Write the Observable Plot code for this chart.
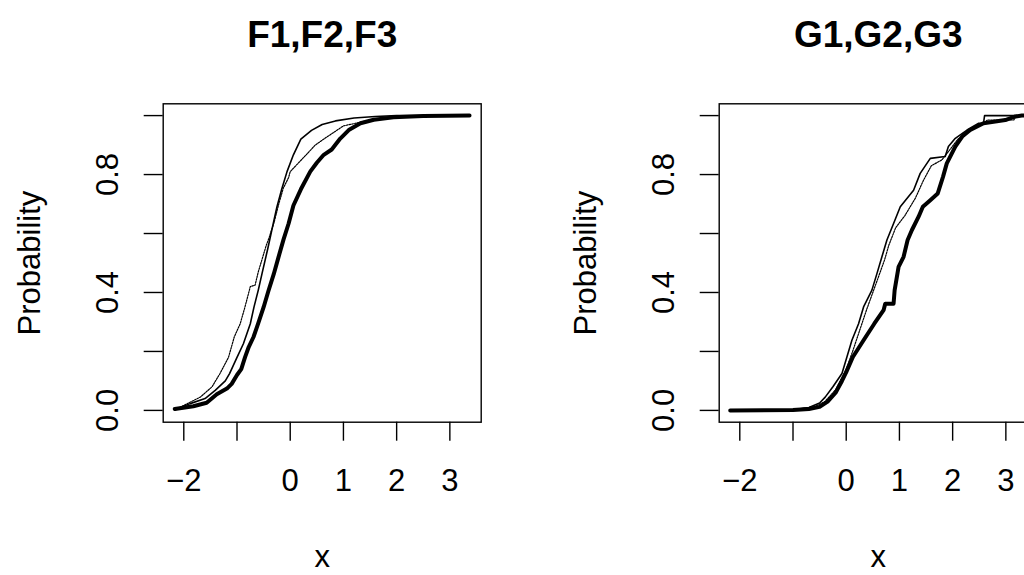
<!DOCTYPE html>
<html>
<head>
<meta charset="utf-8">
<script src="https://cdn.jsdelivr.net/npm/d3@7"></script>
<script src="https://cdn.jsdelivr.net/npm/@observablehq/plot@0.6"></script>
<style>
  html, body { margin: 0; padding: 0; background: #fff; width: 1024px; height: 575px; overflow: hidden; }
  #wrap { position: relative; width: 1024px; height: 575px; overflow: hidden; }
  .panel { position: absolute; top: 0; width: 556px; height: 575px; }
  .panel svg { max-width: none !important; width: 556px; height: 575px; }
  svg { font-family: "Liberation Sans", Arial, Helvetica, sans-serif; overflow: visible; }
</style>
</head>
<body>
<div id="wrap"></div>
<script>
// ---------- Data ----------
const titles = ["F1,F2,F3", "G1,G2,G3"];
const xTicks = [-2, -1, 0, 1, 2, 3];
const xTickLabels = [-2, 0, 1, 2, 3];
const yTicks = [0, 0.2, 0.4, 0.6, 0.8, 1.0];
const yTickLabels = [0, 0.4, 0.8];
const xAxisTitle = "x";
const yAxisTitle = "Probability";

// Left panel: F1 (thick), F2 (thin solid), F3 (thin dotted)
const F1x = [-2.17,-1.82,-1.57,-1.38,-1.19,-1.1,-1.0,-0.92,-0.85,-0.78,-0.69,-0.6,-0.5,-0.41,-0.31,-0.22,-0.125,-0.03,0.06,0.2,0.376,0.5,0.63,0.78,0.94,1.1,1.32,1.57,1.94,2.5,3.37];
const F1y = [0.005,0.014,0.026,0.055,0.074,0.09,0.12,0.14,0.18,0.215,0.249,0.296,0.35,0.405,0.462,0.52,0.58,0.634,0.695,0.75,0.81,0.84,0.867,0.885,0.922,0.951,0.974,0.986,0.994,0.999,1.0];
const F2x = [-2.17,-1.88,-1.6,-1.41,-1.22,-1.14,-1.0,-0.88,-0.75,-0.68,-0.6,-0.53,-0.42,-0.36,-0.25,-0.16,-0.06,0.06,0.2,0.4,0.6,0.85,1.2,1.6,2.0,3.37];
const F2y = [0.003,0.023,0.04,0.068,0.1,0.125,0.18,0.226,0.294,0.351,0.408,0.464,0.55,0.6,0.69,0.75,0.81,0.867,0.92,0.95,0.97,0.982,0.992,0.997,1.0,1.0];
const F3x = [-2.17,-2.0,-1.69,-1.47,-1.32,-1.16,-1.05,-0.94,-0.85,-0.75,-0.66,-0.6,-0.45,-0.4,-0.3,-0.22,-0.13,-0.03,0.0,0.3,0.47,0.66,1.0,1.13,1.5,2.0,2.5,3.37];
const F3y = [0.0,0.017,0.045,0.08,0.125,0.18,0.25,0.294,0.351,0.42,0.425,0.47,0.56,0.584,0.64,0.697,0.754,0.79,0.81,0.867,0.9,0.924,0.965,0.97,0.985,0.996,1.0,1.0];

// Right panel: G1 (thick), G2 (thin solid), G3 (thin dotted)
const G1x = [-2.18,-1.0,-0.7,-0.5,-0.35,-0.2,-0.08,0.0,0.125,0.326,0.527,0.702,0.733,0.89,0.91,0.984,1.078,1.154,1.235,1.36,1.44,1.58,1.72,1.82,1.89,2.05,2.18,2.33,2.58,2.99,3.18,3.3,3.37];
const G1y = [0.0,0.001,0.005,0.012,0.03,0.06,0.1,0.13,0.181,0.238,0.294,0.34,0.362,0.362,0.408,0.487,0.521,0.578,0.612,0.657,0.691,0.713,0.736,0.793,0.838,0.895,0.929,0.951,0.974,0.985,0.997,1.0,1.0];
const G2x = [-2.18,-1.0,-0.7,-0.5,-0.395,-0.25,-0.08,0.013,0.107,0.232,0.326,0.483,0.577,0.671,0.765,0.89,1.016,1.266,1.39,1.58,1.86,1.92,2.05,2.27,2.49,2.58,2.6,3.37];
const G2y = [0.0,0.002,0.01,0.025,0.045,0.08,0.125,0.181,0.238,0.294,0.351,0.408,0.464,0.521,0.578,0.634,0.691,0.747,0.804,0.855,0.861,0.895,0.923,0.951,0.974,0.974,1.0,1.0];
const G3x = [-2.18,-1.0,-0.6,-0.4,-0.2,0.0,0.12,0.25,0.38,0.5,0.62,0.72,0.8,0.93,1.1,1.3,1.45,1.6,1.8,1.95,2.1,2.3,2.6,2.65,3.15,3.2,3.37];
const G3y = [0.0,0.002,0.012,0.03,0.07,0.14,0.2,0.27,0.34,0.4,0.46,0.51,0.56,0.62,0.66,0.72,0.78,0.83,0.85,0.885,0.92,0.95,0.975,0.985,0.985,1.0,1.0];

const zip = (xs, ys) => xs.map((x, i) => ({x, y: ys[i]}));

const panels = [
  {title: titles[0], offset: 0, series: [
    {data: zip(F3x, F3y), w: 1.2, dash: "1.6,1.2"},
    {data: zip(F2x, F2y), w: 1.6, dash: null},
    {data: zip(F1x, F1y), w: 4, dash: null}
  ]},
  {title: titles[1], offset: 556, series: [
    {data: zip(G3x, G3y), w: 1.2, dash: "1.6,1.2"},
    {data: zip(G2x, G2y), w: 1.6, dash: null},
    {data: zip(G1x, G1y), w: 4, dash: null}
  ]}
];

const fmtY = d => d.toFixed(1);
const FS = 31;

const wrap = document.getElementById("wrap");
for (const p of panels) {
  const marks = [];
  for (const s of p.series) {
    marks.push(Plot.line(s.data, {x: "x", y: "y", stroke: "black", strokeWidth: s.w,
      strokeDasharray: s.dash || undefined, strokeLinejoin: "round", strokeLinecap: "round"}));
  }
  marks.push(Plot.frame({stroke: "black", strokeWidth: 1.4}));
  marks.push(Plot.axisX(xTicks, {tickSize: 19, tickPadding: 28, strokeWidth: 1.4, fontSize: FS, label: null,
    tickFormat: d => xTickLabels.includes(d) ? (d < 0 ? "\u2212" + Math.abs(d) : String(d)) : ""}));
  marks.push(Plot.axisY(yTicks, {tickSize: 19, strokeWidth: 1.4, label: null, tickFormat: () => ""}));
  marks.push(Plot.text(yTickLabels, {y: d => d, text: d => fmtY(d), frameAnchor: "left", dx: -45.7,
    rotate: -90, textAnchor: "middle", lineAnchor: "bottom", fontSize: FS, fill: "black"}));
  marks.push(Plot.text([yAxisTitle], {frameAnchor: "left", dx: -123.2, rotate: -90, textAnchor: "middle",
    lineAnchor: "bottom", fontSize: FS, fill: "black"}));
  marks.push(Plot.text([xAxisTitle], {frameAnchor: "bottom", dy: 145, textAnchor: "middle",
    lineAnchor: "bottom", fontSize: FS, fill: "black"}));
  marks.push(Plot.text([p.title], {frameAnchor: "top", dy: -57, textAnchor: "middle",
    lineAnchor: "bottom", fontSize: 37, fontWeight: "bold", fill: "black"}));

  const chart = Plot.plot({
    width: 556, height: 575,
    marginLeft: 162.7, marginRight: 75.3, marginTop: 103.3, marginBottom: 153.3,
    x: {domain: [-2.387, 3.589], axis: null},
    y: {domain: [-0.04, 1.04], axis: null},
    style: {background: "transparent", color: "black", fontFamily: "'Liberation Sans', Arial, Helvetica, sans-serif"},
    marks
  });
  const div = document.createElement("div");
  div.className = "panel";
  div.style.left = p.offset + "px";
  div.appendChild(chart);
  wrap.appendChild(div);
}
</script>
</body>
</html>
